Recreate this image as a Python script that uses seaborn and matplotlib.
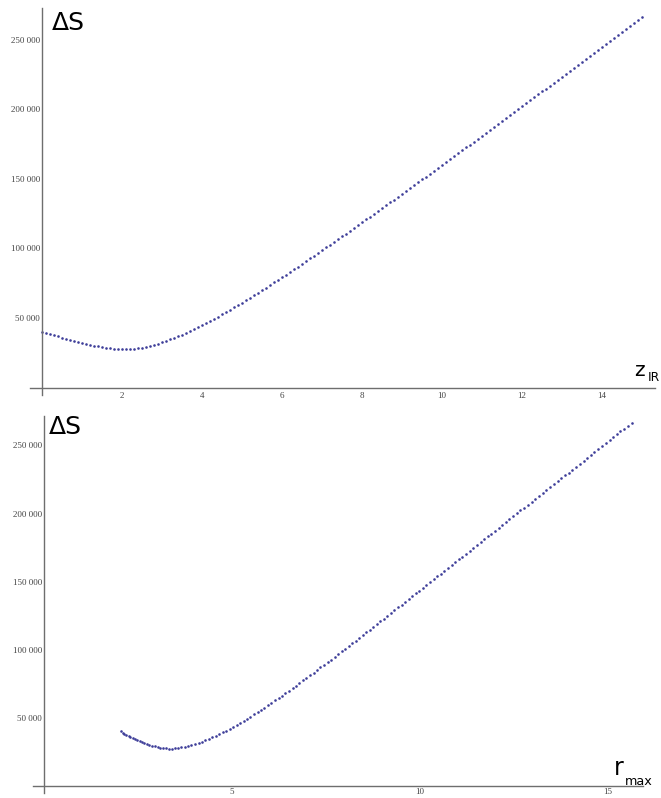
import matplotlib
matplotlib.use("Agg")
import matplotlib.pyplot as plt
import matplotlib.ticker as mticker
import seaborn as sns
import pandas as pd

# ---------------- data ----------------
z_ir = [0.0, 0.1, 0.2, 0.3, 0.4, 0.5, 0.6, 0.7, 0.8, 0.9,
        1.0, 1.1, 1.2, 1.3, 1.4, 1.5, 1.6, 1.7, 1.8, 1.9,
        2.0, 2.1, 2.2, 2.3, 2.4, 2.5, 2.6, 2.7, 2.8, 2.9,
        3.0, 3.1, 3.2, 3.3, 3.4, 3.5, 3.6, 3.7, 3.8, 3.9,
        4.0, 4.1, 4.2, 4.3, 4.4, 4.5, 4.6, 4.7, 4.8, 4.9,
        5.0, 5.1, 5.2, 5.3, 5.4, 5.5, 5.6, 5.7, 5.8, 5.9,
        6.0, 6.1, 6.2, 6.3, 6.4, 6.5, 6.6, 6.7, 6.8, 6.9,
        7.0, 7.1, 7.2, 7.3, 7.4, 7.5, 7.6, 7.7, 7.8, 7.9,
        8.0, 8.1, 8.2, 8.3, 8.4, 8.5, 8.6, 8.7, 8.8, 8.9,
        9.0, 9.1, 9.2, 9.3, 9.4, 9.5, 9.6, 9.7, 9.8, 9.9,
        10.0, 10.1, 10.2, 10.3, 10.4, 10.5, 10.6, 10.7, 10.8, 10.9,
        11.0, 11.1, 11.2, 11.3, 11.4, 11.5, 11.6, 11.7, 11.8, 11.9,
        12.0, 12.1, 12.2, 12.3, 12.4, 12.5, 12.6, 12.7, 12.8, 12.9,
        13.0, 13.1, 13.2, 13.3, 13.4, 13.5, 13.6, 13.7, 13.8, 13.9,
        14.0, 14.1, 14.2, 14.3, 14.4, 14.5, 14.6, 14.7, 14.8, 14.9,
        15.0]

r_max = [2.05, 2.10, 2.14, 2.19, 2.25, 2.30, 2.36, 2.42, 2.48, 2.54,
         2.60, 2.67, 2.73, 2.80, 2.87, 2.94, 3.02, 3.09, 3.17, 3.24,
         3.32, 3.40, 3.48, 3.57, 3.65, 3.74, 3.83, 3.92, 4.01, 4.11,
         4.20, 4.29, 4.38, 4.48, 4.57, 4.66, 4.75, 4.84, 4.94, 5.03,
         5.12, 5.21, 5.31, 5.40, 5.49, 5.59, 5.68, 5.77, 5.86, 5.96,
         6.05, 6.14, 6.24, 6.33, 6.42, 6.52, 6.61, 6.70, 6.79, 6.89,
         6.98, 7.07, 7.17, 7.26, 7.35, 7.45, 7.54, 7.63, 7.73, 7.82,
         7.92, 8.01, 8.10, 8.20, 8.29, 8.38, 8.48, 8.57, 8.66, 8.76,
         8.85, 8.94, 9.04, 9.13, 9.23, 9.32, 9.42, 9.51, 9.61, 9.70,
         9.80, 9.89, 9.98, 10.08, 10.17, 10.27, 10.36, 10.46, 10.55, 10.65,
         10.74, 10.84, 10.93, 11.03, 11.13, 11.22, 11.32, 11.42, 11.51, 11.61,
         11.71, 11.80, 11.90, 11.99, 12.09, 12.19, 12.28, 12.38, 12.48, 12.57,
         12.67, 12.77, 12.87, 12.97, 13.06, 13.16, 13.26, 13.36, 13.46, 13.56,
         13.66, 13.76, 13.85, 13.95, 14.05, 14.15, 14.25, 14.35, 14.45, 14.54,
         14.64, 14.74, 14.84, 14.94, 15.04, 15.14, 15.24, 15.33, 15.43, 15.53,
         15.63]

delta_s = [40100, 39250, 38400, 37550, 36700, 35900, 35100, 34350, 33600, 32900,
           32200, 31500, 30850, 30200, 29600, 29050, 28550, 28150, 27800, 27580,
           27480, 27530, 27680, 27930, 28280, 28730, 29280, 29930, 30680, 31530,
           32480, 33510, 34580, 35710, 36880, 38110, 39380, 40690, 42040, 43430,
           44860, 46320, 47830, 49370, 50940, 52560, 54200, 55870, 57560, 59280,
           61030, 62790, 64580, 66380, 68190, 70030, 71870, 73730, 75600, 77480,
           79380, 81280, 83190, 85110, 87040, 88980, 90920, 92870, 94830, 96800,
           98780, 100760, 102750, 104740, 106740, 108740, 110750, 112760, 114780, 116800,
           118830, 120860, 122890, 124930, 126980, 129020, 131070, 133120, 135180, 137240,
           139310, 141370, 143440, 145510, 147590, 149660, 151740, 153820, 155910, 157990,
           160080, 162170, 164260, 166360, 168460, 170560, 172660, 174760, 176860, 178970,
           181080, 183190, 185300, 187420, 189540, 191660, 193780, 195900, 198020, 200150,
           202280, 204410, 206540, 208680, 210820, 212960, 215100, 217240, 219380, 221530,
           223680, 225830, 227970, 230120, 232270, 234420, 236570, 238720, 240870, 243020,
           245180, 247330, 249490, 251640, 253800, 255960, 258120, 260280, 262440, 264610,
           266770]

top_xticks = [2, 4, 6, 8, 10, 12, 14]
bottom_xticks = [5, 10, 15]
yticks = [50000, 100000, 150000, 200000, 250000]

# ---------------- style ----------------
sns.set_style("white")
plt.rcParams["font.family"] = ["DejaVu Sans"]

DOT = "#3d3d99"
AXC = "#6e6e6e"
LBL = "#444444"

W, H = 661, 798
fig = plt.figure(figsize=(W / 100, H / 100), dpi=100)


def px_axes(l, r, t, b):
    return fig.add_axes([l / W, 1 - b / H, (r - l) / W, (b - t) / H])


def style(ax, xlim, ylim, xmaj, xmin_, ymaj, ymin_, xpad):
    ax.set_xlim(*xlim)
    ax.set_ylim(*ylim)
    for s in ["top", "right"]:
        ax.spines[s].set_visible(False)
    for s in ["left", "bottom"]:
        ax.spines[s].set_position(("data", 0))
        ax.spines[s].set_color(AXC)
        ax.spines[s].set_linewidth(1.0)
    ax.xaxis.set_major_locator(mticker.FixedLocator(xmaj))
    ax.xaxis.set_minor_locator(mticker.FixedLocator(xmin_))
    ax.yaxis.set_major_locator(mticker.FixedLocator(ymaj))
    ax.yaxis.set_minor_locator(mticker.FixedLocator(ymin_))
    ax.yaxis.set_major_formatter(
        mticker.FuncFormatter(lambda v, p: f"{int(v):,}".replace(",", " ")))
    ax.xaxis.set_major_formatter(mticker.FuncFormatter(lambda v, p: f"{v:g}"))
    ax.tick_params(which="both", direction="in", color=AXC, width=0.8)
    ax.tick_params(which="major", length=4)
    ax.tick_params(which="minor", length=2.2)
    ax.tick_params(axis="y", which="major", pad=1.5, labelsize=6.5, labelcolor=LBL)
    ax.tick_params(axis="x", which="major", pad=xpad, labelsize=6.5, labelcolor=LBL)
    for lab in ax.get_xticklabels() + ax.get_yticklabels():
        lab.set_family("Liberation Serif")
    ax.set_xlabel("")
    ax.set_ylabel("")
    ax.patch.set_alpha(0)


df = pd.DataFrame({"z_IR": z_ir, "r_max": r_max, "dS": delta_s})
ymin_ticks = [v for v in range(10000, 270001, 10000) if v % 50000]

# ---------------- top panel ----------------
ax1 = px_axes(30, 655, 8, 395)
sns.scatterplot(data=df, x="z_IR", y="dS", ax=ax1, color=DOT, s=3.5,
                linewidth=0, legend=False)
style(ax1, (-12 / 40, 613 / 40), (-7.5 * 719.4, 379.5 * 719.4),
      top_xticks, [v / 2 for v in range(1, 31) if v % 4], yticks, ymin_ticks, 3.5)
fig.text(52 / W, 1 - 11 / H, "ΔS", fontsize=18, color="black", va="top", ha="left")
fig.text(634 / W, 1 - 376 / H, "z", fontsize=14.5, color="black",
         va="baseline", ha="left")
fig.text(648 / W, 1 - 381 / H, "IR", fontsize=8.8, color="black",
         va="baseline", ha="left")

# ---------------- bottom panel ----------------
ax2 = px_axes(33, 643, 416, 793)
sns.scatterplot(data=df, x="r_max", y="dS", ax=ax2, color=DOT, s=3.5,
                linewidth=0, legend=False)
style(ax2, (-11 / 37.6, 599 / 37.6), (-7 * 734.2, 370 * 734.2),
      bottom_xticks, [v for v in range(1, 16) if v % 5], yticks, ymin_ticks, 1.5)
fig.text(49 / W, 1 - 415 / H, "ΔS", fontsize=18, color="black", va="top", ha="left")
fig.text(614 / W, 1 - 775 / H, "r", fontsize=17, color="black",
         va="baseline", ha="left")
fig.text(625 / W, 1 - 785 / H, "max", fontsize=9.2, color="black",
         va="baseline", ha="left")

fig.savefig("out.png", dpi=100)
